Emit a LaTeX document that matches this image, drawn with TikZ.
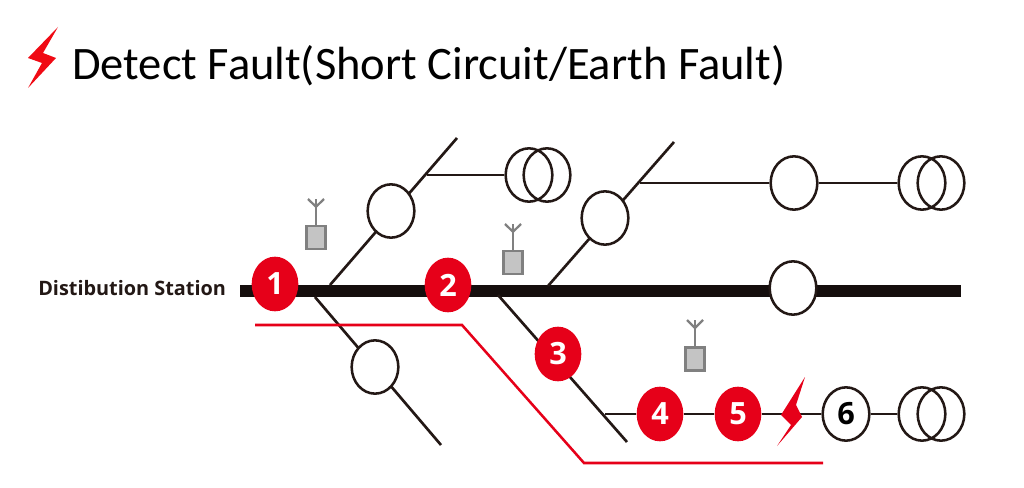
\documentclass[tikz,border=0pt]{standalone}
\usepackage{fontspec}
\setmainfont{Carlito}
\newfontfamily\labelfont{Open Sans}
\usetikzlibrary{backgrounds,shapes.geometric}
\definecolor{faultred}{RGB}{230,0,25}
\definecolor{boltred}{RGB}{240,10,20}
\definecolor{wire}{RGB}{35,24,21}
\definecolor{devgray}{RGB}{128,128,128}
\definecolor{devfill}{RGB}{196,196,196}
\tikzset{
  x=0.75pt, y=-0.75pt,
  redbadge/.style={ellipse,fill=faultred,draw=none,minimum width=35pt,minimum height=41pt,inner sep=0pt,text=white,font=\labelfont\bfseries\fontsize{23}{23}\selectfont},
  switchnode/.style={ellipse,fill=white,draw=wire,line width=1.9pt,minimum width=35pt,minimum height=40pt,inner sep=0pt},
  coil/.style={ellipse,draw=wire,line width=1.9pt,minimum width=35pt,minimum height=40pt,inner sep=0pt},
  wireline/.style={draw=wire,line width=2pt},
  busline/.style={draw=wire!60!black,line width=8.5pt},
  faultpath/.style={draw=faultred,line width=1.9pt,line join=miter},
  devbox/.style={rectangle,draw=devgray,fill=devfill,line width=1.9pt,minimum width=14pt,minimum height=17pt,inner sep=0pt},
  mast/.style={draw=devgray,line width=1.7pt},
}
\begin{document}
\begin{tikzpicture}
\path[use as bounding box] (0,0) rectangle (1024,488);
% texts
\node[anchor=west,inner sep=0pt,font=\fontsize{34.9}{35}\selectfont,text=black] (title) at (72,66) {Detect Fault(Short Circuit/Earth Fault)};
\node[anchor=west,inner sep=0pt,font=\labelfont\bfseries\fontsize{14.9}{15}\selectfont,text=wire] (station) at (38,288) {Distibution Station};
% title bolt
\fill[boltred] (58,27) -- (28,58) -- (42,63) -- (28,88) -- (56,58) -- (43,53) -- cycle;
% junctions and free ends
\coordinate (busL) at (240,291);
\coordinate (busR) at (961,291);
\coordinate (a0) at (330,285); \coordinate (a1) at (457,138);
\coordinate (a2) at (427,175);
\coordinate (b0) at (548,286); \coordinate (b1) at (674,142);
\coordinate (b2) at (640,183);
\coordinate (c0) at (315,297); \coordinate (c1) at (441,445);
\coordinate (d0) at (498,295); \coordinate (d1) at (627,442);
\coordinate (d2) at (605,414);
\coordinate (r0) at (255,325); \coordinate (r1) at (462,325);
\coordinate (r2) at (584,463); \coordinate (r3) at (823,463);
% switches
\node[switchnode] (s1) at (391,211) {};
\node[switchnode] (s2) at (605,218) {};
\node[switchnode] (s3) at (794,183) {};
\node[switchnode] (s4) at (793,288) {};
\node[switchnode] (s5) at (375,367) {};
\node[switchnode,font=\labelfont\bfseries\fontsize{23}{23}\selectfont,text=black] (s6) at (846,414) {6};
% transformers
\node[coil] (t1a) at (529,175) {}; \node[coil] (t1b) at (547,175) {};
\node[coil] (t2a) at (922,183) {}; \node[coil] (t2b) at (941,183) {};
\node[coil] (t3a) at (922,414) {}; \node[coil] (t3b) at (941,414) {};
% numbered badges
\node[redbadge] (n1) at (275,284) {1};
\node[redbadge] (n2) at (448,285) {2};
\node[redbadge] (n3) at (558,354) {3};
\node[redbadge] (n4) at (660,414) {4};
\node[redbadge] (n5) at (738,414) {5};
% fault bolt
\fill[faultred] (805,377) -- (781,415) -- (791,425) -- (777,446) -- (802,417) -- (796,405) -- cycle;
% radio units
\node[devbox] (u1) at (316,237.5) {};
\node[devbox] (u2) at (513,262.5) {};
\node[devbox] (u3) at (695,359) {};
\foreach \u/\x/\y in {u1/316/199,u2/513/224,u3/695/320}{
  \draw[mast] (\u.north) -- (\x,\y) coordinate[pos=0.7] (\u top);
  \draw[mast] (\x-8,\y) -- (\u top) -- (\x+8,\y);
}
\begin{scope}[on background layer]
\fill[white] (0,0) rectangle (1024,488);
\draw[busline] (busL) -- (busR);
\draw[wireline] (a0) -- (a1);
\draw[wireline] (a2) -- (t1a.west);
\draw[wireline] (b0) -- (b1);
\draw[wireline] (b2) -- (s3.west);
\draw[wireline] (s3.east) -- (t2a.west);
\draw[wireline] (c0) -- (c1);
\draw[wireline] (d0) -- (d1);
\draw[wireline] (d2) -- (n4.west);
\draw[wireline] (n4.east) -- (n5.west);
\draw[wireline] (n5.east) -- (s6.west);
\draw[wireline] (s6.east) -- (t3a.west);
\draw[faultpath] (r0) -- (r1) -- (r2) -- (r3);
\end{scope}
\end{tikzpicture}
\end{document}
